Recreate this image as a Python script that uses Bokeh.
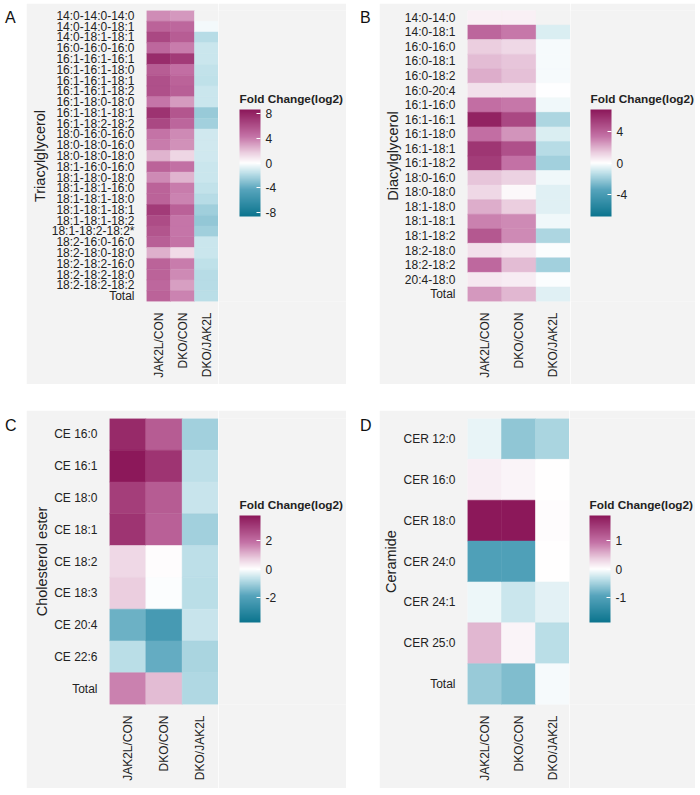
import math
from bokeh.plotting import figure
from bokeh.models import (FactorRange, LinearColorMapper, ColorBar, FixedTicker,
                          ColumnDataSource, Div, Spacer, PrintfTickFormatter, Label)
from bokeh.layouts import column, row
from bokeh.embed import file_html
from bokeh.resources import INLINE

nan = float("nan")
comparisons = ["JAK2L/CON", "DKO/CON", "DKO/JAK2L"]

# ---- Panel A: Triacylglycerol ----
tag_species = ["14:0-14:0-14:0", "14:0-14:0-18:1", "14:0-18:1-18:1", "16:0-16:0-16:0",
               "16:1-16:1-16:1", "16:1-16:1-18:0", "16:1-16:1-18:1", "16:1-16:1-18:2",
               "16:1-18:0-18:0", "16:1-18:1-18:1", "16:1-18:2-18:2", "18:0-16:0-16:0",
               "18:0-18:0-16:0", "18:0-18:0-18:0", "18:1-16:0-16:0", "18:1-18:0-18:0",
               "18:1-18:1-16:0", "18:1-18:1-18:0", "18:1-18:1-18:1", "18:1-18:1-18:2",
               "18:1-18:2-18:2*", "18:2-16:0-16:0", "18:2-18:0-18:0", "18:2-18:2-16:0",
               "18:2-18:2-18:0", "18:2-18:2-18:2", "Total"]
tag_jak2l_con = [3.5, 5.0, 6.3, 4.8, 7.6, 5.3, 5.9, 5.9, 4.2, 7.3, 6.3, 4.3, 4.0, 2.4,
                 5.0, 3.6, 5.0, 5.0, 6.9, 6.1, 5.7, 5.2, 2.5, 5.0, 5.0, 4.8, 5.0]
tag_dko_con = [3.2, 4.8, 5.3, 4.0, 6.9, 4.5, 5.0, 5.2, 3.1, 5.6, 4.9, 3.6, 3.4, 1.4,
               4.4, 2.4, 4.0, 3.8, 5.1, 4.2, 4.2, 4.3, 1.2, 4.0, 3.6, 3.0, 3.8]
tag_dko_jak2l = [nan, -0.3, -1.8, -1.3, -1.3, -1.5, -1.6, -1.3, -1.3, -2.6, -2.3, -1.2,
                 -1.2, -1.2, -1.3, -1.3, -1.5, -1.8, -2.4, -2.7, -2.4, -1.3, -1.3, -1.6,
                 -1.8, -1.8, -1.7]
tag_ticks = [-8, -4, 0, 4, 8]
tag_limit = 8.6

# ---- Panel B: Diacylglycerol ----
dag_species = ["14:0-14:0", "14:0-18:1", "16:0-16:0", "16:0-18:1", "16:0-18:2", "16:0-20:4",
               "16:1-16:0", "16:1-16:1", "16:1-18:0", "16:1-18:1", "16:1-18:2", "18:0-16:0",
               "18:0-18:0", "18:1-18:0", "18:1-18:1", "18:1-18:2", "18:2-18:0", "18:2-18:2",
               "20:4-18:0", "Total"]
dag_jak2l_con = [0.4, 3.8, 1.3, 1.7, 2.0, 0.8, 3.5, 6.3, 3.5, 5.6, 5.3, 1.5, 1.0, 2.0,
                 3.0, 4.3, 0.8, 3.7, 0.6, 2.5]
dag_dko_con = [0.4, 3.2, 1.0, 1.5, 1.6, 0.8, 3.2, 4.9, 2.6, 4.6, 3.4, 1.2, 0.2, 1.3,
               2.8, 2.8, 0.6, 1.7, 0.5, 1.8]
dag_dko_jak2l = [nan, -0.7, -0.2, -0.2, -0.2, -0.05, -0.3, -1.6, -0.7, -1.4, -1.8, -0.3,
                 -0.6, -0.6, -0.3, -1.6, -0.1, -1.8, -0.1, -0.6]
dag_ticks = [-4, 0, 4]
dag_limit = 6.7

# ---- Panel C: Cholesterol ester ----
ce_species = ["CE 16:0", "CE 16:1", "CE 18:0", "CE 18:1", "CE 18:2", "CE 18:3", "CE 20:4",
              "CE 22:6", "Total"]
ce_jak2l_con = [3.3, 3.7, 2.9, 3.1, 0.55, 0.7, -1.6, -0.75, 1.65]
ce_dko_con = [2.3, 3.1, 2.3, 2.2, 0.03, -0.03, -2.2, -1.7, 0.95]
ce_dko_jak2l = [-1.0, -0.7, -0.6, -1.0, -0.7, -0.75, -0.6, -0.9, -0.85]
ce_ticks = [-2, 0, 2]
ce_limit = 3.7

# ---- Panel D: Ceramide ----
cer_species = ["CER 12:0", "CER 16:0", "CER 18:0", "CER 24:0", "CER 24:1", "CER 25:0", "Total"]
cer_jak2l_con = [-0.12, 0.13, 1.85, -1.0, -0.1, 0.5, -0.56]
cer_dko_con = [-0.6, 0.08, 1.85, -1.0, -0.28, 0.08, -0.68]
cer_dko_jak2l = [-0.45, 0.01, 0.02, 0.01, -0.15, -0.37, -0.05]
cer_ticks = [-1, 0, 1]
cer_limit = 1.85

BG = "#f3f3f3"
TXT = "#222222"
FONT = "Liberation Sans"
# gradient stops (fraction of limit, colour)
STOPS = [(-1.0, (12, 116, 142)), (-0.5, (86, 164, 188)), (-0.2, (186, 222, 231)),
         (0.0, (255, 255, 255)), (0.2, (234, 204, 222)), (0.5, (196, 114, 166)),
         (1.0, (140, 24, 90))]


def make_palette(n=256):
    pal = []
    for i in range(n):
        f = -1 + 2 * i / (n - 1)
        for (f0, c0), (f1, c1) in zip(STOPS[:-1], STOPS[1:]):
            if f0 <= f <= f1:
                s = (f - f0) / (f1 - f0)
                c = [round(c0[k] + (c1[k] - c0[k]) * s) for k in range(3)]
                break
        pal.append("#%02x%02x%02x" % tuple(c))
    return pal


PALETTE = make_palette()
BAR_H = 107


def panel(species, cols, limit, ticks, ylabel, width, height, fl, fw, ft, fh,
          bar_bottom, bar_gap):
    xs, ys, vs = [], [], []
    for comp, vals in zip(comparisons, cols):
        for sp, v in zip(species, vals):
            xs.append(comp)
            ys.append(sp)
            vs.append(v)
    src = ColumnDataSource(dict(x=xs, y=ys, v=vs))
    mapper = LinearColorMapper(palette=PALETTE, low=-limit, high=limit, nan_color=BG)
    hw = fl + fw
    p = figure(width=hw, height=height,
               x_range=FactorRange(*comparisons, range_padding=0),
               y_range=FactorRange(*list(reversed(species)), range_padding=0),
               output_backend="svg", toolbar_location=None,
               min_border_left=fl, min_border_right=0,
               min_border_top=ft, min_border_bottom=height - ft - fh)
    p.rect(x="x", y="y", width=1, height=1, source=src,
           fill_color={"field": "v", "transform": mapper},
           line_color={"field": "v", "transform": mapper}, line_width=0.5)
    p.background_fill_color = BG
    p.border_fill_color = BG
    p.outline_line_color = None
    p.grid.visible = False
    for ax in (p.xaxis[0], p.yaxis[0]):
        ax.axis_line_color = None
        ax.major_tick_line_color = None
        ax.minor_tick_line_color = None
        ax.major_tick_out = 0
        ax.major_tick_in = 0
        ax.minor_tick_out = 0
        ax.major_label_text_font = FONT
        ax.major_label_text_font_size = "12px"
        ax.major_label_text_color = TXT
    p.xaxis.major_label_orientation = math.pi / 2
    p.xaxis.major_label_standoff = 11
    p.yaxis.major_label_standoff = 12
    p.yaxis.axis_label = ylabel
    p.yaxis.axis_label_text_font = FONT
    p.yaxis.axis_label_text_font_size = "14.5px"
    p.yaxis.axis_label_text_font_style = "normal"
    p.yaxis.axis_label_text_color = TXT
    p.yaxis.axis_label_standoff = 1

    lw = width - hw
    lg = figure(width=lw, height=height, output_backend="svg", toolbar_location=None,
                x_axis_location=None, y_axis_location=None,
                min_border_left=0, min_border_right=0,
                min_border_top=ft, min_border_bottom=height - ft - fh)
    lg.background_fill_color = BG
    lg.border_fill_color = BG
    lg.outline_line_color = None
    lg.grid.visible = False
    frame_bottom = ft + fh
    y_bar = frame_bottom - bar_bottom
    cb = ColorBar(color_mapper=mapper, ticker=FixedTicker(ticks=ticks),
                  formatter=PrintfTickFormatter(format="%d"),
                  width=21, height=BAR_H,
                  major_label_text_font=FONT, major_label_text_font_size="12px",
                  major_label_text_color=TXT, label_standoff=5,
                  major_tick_line_color="white", major_tick_in=4, major_tick_out=0,
                  minor_tick_line_color=None, bar_line_color=None,
                  background_fill_color=None, border_line_color=None,
                  padding=0, margin=0, location=(bar_gap, y_bar))
    lg.add_layout(cb, "center")
    lg.add_layout(Label(x=bar_gap, y=y_bar + BAR_H + 4, x_units="screen", y_units="screen",
                        text="Fold Change(log2)", text_font=FONT, text_font_size="11.8px",
                        text_font_style="bold", text_color=TXT,
                        text_baseline="bottom", text_align="left"))
    return row(p, lg, spacing=0)


def letter(t, w, pad, top):
    return Div(text=t, width=w - pad, height=24,
               styles={"font-family": FONT, "font-size": "16px", "color": "#111",
                       "padding-left": f"{pad}px", "padding-top": f"{top}px",
                       "line-height": "16px"})


pA = panel(tag_species, [tag_jak2l_con, tag_dko_con, tag_dko_jak2l], tag_limit, tag_ticks,
           "Triacylglycerol", 320, 381, 120, 72, 7, 291, 213, 21)
pB = panel(dag_species, [dag_jak2l_con, dag_dko_con, dag_dko_jak2l], dag_limit, dag_ticks,
           "Diacylglycerol", 316, 381, 88, 103, 7, 291, 213, 20)
pC = panel(ce_species, [ce_jak2l_con, ce_dko_con, ce_dko_jak2l], ce_limit, ce_ticks,
           "Cholesterol ester", 320, 378, 83, 109, 8, 286, 212, 21)
pD = panel(cer_species, [cer_jak2l_con, cer_dko_con, cer_dko_jak2l], cer_limit, cer_ticks,
           "Ceramide", 316, 378, 88, 102, 8, 286, 212, 20)

layout = column(
    Spacer(height=3),
    row(letter("A", 16, 0, 2), pA, letter("B", 32, 9, 2), pB, spacing=0),
    Spacer(height=26),
    row(letter("C", 16, 0, 3), pC, letter("D", 32, 9, 3), pD, spacing=0),
    spacing=0)

open("out.html", "w").write(file_html(layout, INLINE))
